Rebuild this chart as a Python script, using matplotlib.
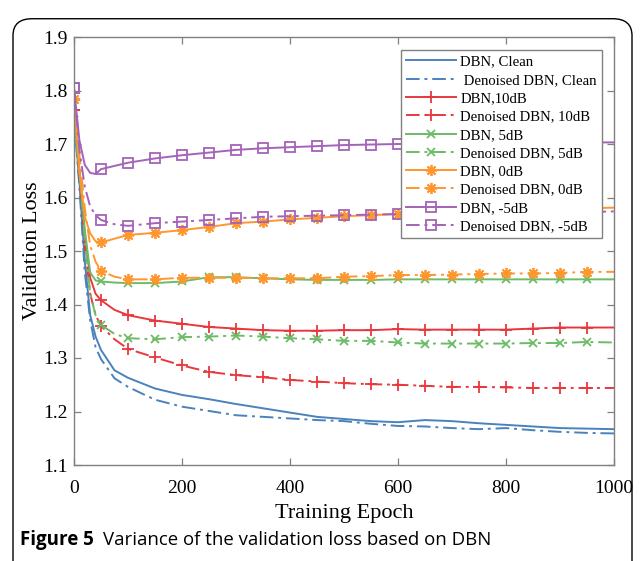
import numpy as np
import matplotlib.pyplot as plt
from matplotlib.patches import FancyBboxPatch

# ----------------------------
# Data
# ----------------------------
epochs = [0, 10, 20, 30, 40, 50, 75, 100, 150, 200, 250, 300, 350, 400, 450,
          500, 550, 600, 650, 700, 750, 800, 850, 900, 950, 1000]

dbn_clean = [1.750, 1.630, 1.480, 1.380, 1.340, 1.315, 1.277, 1.263, 1.243, 1.231,
             1.223, 1.214, 1.206, 1.198, 1.190, 1.186, 1.182, 1.180, 1.184, 1.182,
             1.178, 1.175, 1.172, 1.169, 1.168, 1.167]
den_clean = [1.750, 1.620, 1.460, 1.370, 1.320, 1.298, 1.262, 1.246, 1.222, 1.209,
             1.201, 1.193, 1.190, 1.187, 1.184, 1.182, 1.177, 1.173, 1.172, 1.169,
             1.167, 1.169, 1.165, 1.162, 1.160, 1.159]
dbn_10 = [1.764, 1.650, 1.530, 1.450, 1.420, 1.408, 1.390, 1.380, 1.370, 1.364,
          1.358, 1.355, 1.352, 1.351, 1.351, 1.352, 1.352, 1.354, 1.353, 1.353,
          1.353, 1.353, 1.355, 1.357, 1.357, 1.357]
den_10 = [1.764, 1.640, 1.510, 1.420, 1.380, 1.360, 1.335, 1.317, 1.301, 1.286,
          1.274, 1.268, 1.264, 1.259, 1.256, 1.253, 1.251, 1.250, 1.248, 1.246,
          1.246, 1.245, 1.244, 1.244, 1.244, 1.244]
dbn_5 = [1.745, 1.650, 1.540, 1.460, 1.445, 1.443, 1.441, 1.440, 1.440, 1.443,
         1.451, 1.451, 1.449, 1.447, 1.446, 1.446, 1.446, 1.447, 1.447, 1.447,
         1.447, 1.447, 1.447, 1.447, 1.447, 1.447]
den_5 = [1.745, 1.650, 1.520, 1.420, 1.380, 1.362, 1.345, 1.337, 1.335, 1.339,
         1.340, 1.342, 1.340, 1.337, 1.335, 1.332, 1.332, 1.329, 1.327, 1.327,
         1.327, 1.327, 1.328, 1.328, 1.330, 1.329]
dbn_0 = [1.785, 1.650, 1.564, 1.533, 1.518, 1.516, 1.523, 1.530, 1.534, 1.539,
         1.545, 1.552, 1.555, 1.559, 1.562, 1.565, 1.567, 1.569, 1.571, 1.573,
         1.575, 1.576, 1.578, 1.579, 1.580, 1.581]
den_0 = [1.785, 1.680, 1.580, 1.510, 1.480, 1.463, 1.452, 1.447, 1.447, 1.450,
         1.450, 1.450, 1.449, 1.449, 1.449, 1.452, 1.453, 1.455, 1.455, 1.456,
         1.457, 1.458, 1.458, 1.459, 1.461, 1.461]
dbn_m5 = [1.805, 1.707, 1.661, 1.646, 1.644, 1.653, 1.659, 1.665, 1.673, 1.679,
          1.684, 1.689, 1.692, 1.694, 1.696, 1.698, 1.699, 1.700, 1.700, 1.701,
          1.701, 1.702, 1.702, 1.702, 1.703, 1.703]
den_m5 = [1.805, 1.689, 1.620, 1.583, 1.567, 1.558, 1.550, 1.547, 1.552, 1.555,
          1.558, 1.561, 1.564, 1.565, 1.566, 1.567, 1.568, 1.569, 1.570, 1.571,
          1.571, 1.572, 1.572, 1.573, 1.573, 1.574]

labels = ["DBN, Clean", " Denoised DBN, Clean", "DBN,10dB", "Denoised DBN, 10dB",
          "DBN, 5dB", "Denoised DBN, 5dB", "DBN, 0dB", "Denoised DBN, 0dB",
          "DBN, -5dB", "Denoised DBN, -5dB"]

# ----------------------------
# Style
# ----------------------------
plt.rcParams['font.family'] = ['Liberation Serif', 'DejaVu Serif']
c_blue = "#4A82BC"
c_red = "#E8383D"
c_green = "#6CBB66"
c_orange = "#FF962E"
c_purple = "#A463B8"
dashdot = (0, (7, 2.5, 1.5, 2.5))

# markers every 50 epochs (0..950)
mark_idx = [i for i, e in enumerate(epochs) if e % 50 == 0 and e < 1000]

series = [
    (dbn_clean, c_blue, '-', None, 0),
    (den_clean, c_blue, dashdot, None, 0),
    (dbn_10, c_red, '-', '+', 9),
    (den_10, c_red, dashdot, '+', 9),
    (dbn_5, c_green, '-', 'x', 6),
    (den_5, c_green, dashdot, 'x', 6),
    (dbn_0, c_orange, '-', (8, 2, 0), 8),
    (den_0, c_orange, dashdot, (8, 2, 0), 8),
    (dbn_m5, c_purple, '-', 's', 6.5),
    (den_m5, c_purple, dashdot, 's', 6.5),
]

fig = plt.figure(figsize=(6.40, 5.61), dpi=100)
ax = fig.add_axes([74 / 640, 1 - 465 / 561, 540 / 640, 428 / 561])

for (vals, col, ls, mk, ms), lab in zip(series, labels):
    ax.plot(epochs, vals, color=col, linestyle=ls, linewidth=1.4,
            marker=mk, markersize=ms, markevery=mark_idx,
            markerfacecolor='none', markeredgecolor=col, markeredgewidth=1.3,
            label=lab)

ax.set_xlim(0, 1000)
ax.set_ylim(1.1, 1.9)
ax.set_xticks([0, 200, 400, 600, 800, 1000])
ax.set_yticks(np.round(np.arange(1.1, 1.91, 0.1), 1))
ax.tick_params(direction='in', top=True, right=True, length=5, width=0.9,
               color='#808080', labelsize=14)
ax.tick_params(axis='x', pad=11)
ax.tick_params(axis='y', pad=4.5)
for sp in ax.spines.values():
    sp.set_color('#808080')
    sp.set_linewidth(1.0)

ax.set_xlabel("Training Epoch", fontsize=16, labelpad=5)
ax.set_ylabel("Validation Loss", fontsize=16, labelpad=1)

leg = ax.legend(loc='upper right', bbox_to_anchor=(602 / 640, 1 - 50 / 561),
                bbox_transform=fig.transFigure, borderaxespad=0,
                fontsize=10.6, labelspacing=0.34, handlelength=3.4,
                handletextpad=0.3, borderpad=0.35, fancybox=False,
                framealpha=1)
leg.get_frame().set_edgecolor('#808080')
leg.get_frame().set_linewidth(1.0)

# rounded frame around the figure panel
frame = FancyBboxPatch((13 / 640, -0.1), 619 / 640, 1.1 - 12 / 561 - 0.012,
                       boxstyle="round,pad=0,rounding_size=0.03",
                       transform=fig.transFigure, fill=False,
                       edgecolor='black', linewidth=1.0, clip_on=False)
fig.patches.append(frame)

# caption
fig.text(20 / 640, 1 - 540 / 561, "Figure 5", fontsize=13.5, fontweight='bold',
         family=['Open Sans', 'DejaVu Sans'], va='center', ha='left')
fig.text(103 / 640, 1 - 540 / 561, "Variance of the validation loss based on DBN",
         fontsize=13.4, family=['Open Sans', 'DejaVu Sans'], va='center', ha='left')

plt.savefig("out.png", dpi=100)
plt.close()
